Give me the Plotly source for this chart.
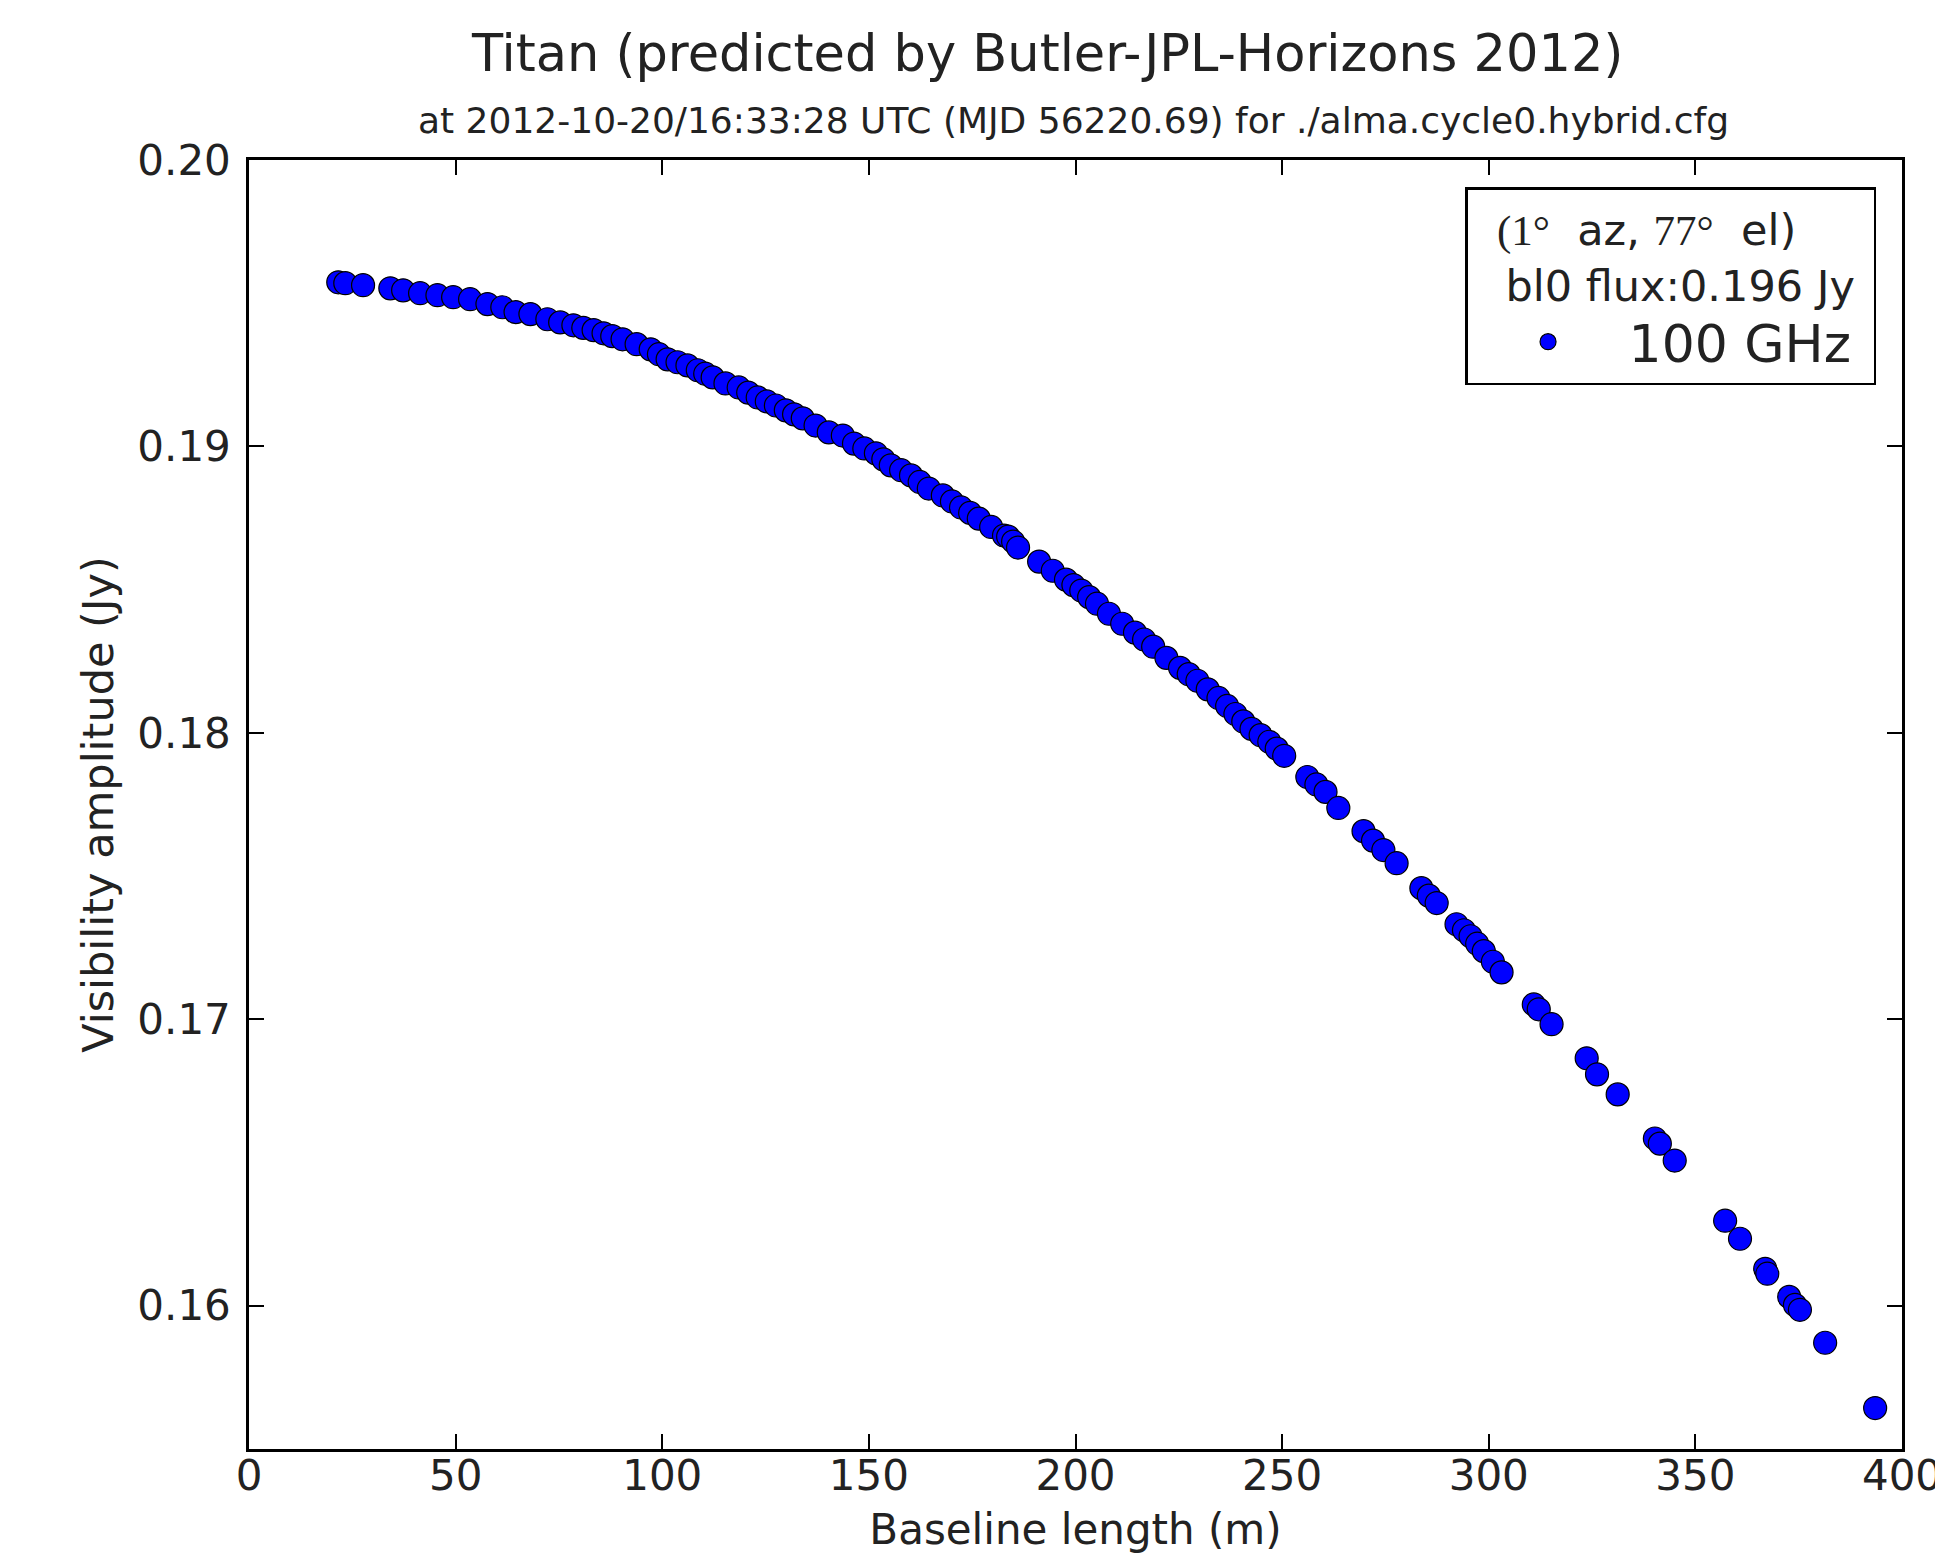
import plotly.graph_objects as go

# Baseline length (m)
baseline_m = [
    21.6, 23.3, 27.6, 34.2, 37.3, 41.4, 45.6, 49.4, 53.5, 57.7,
    61.3, 64.5, 68.1, 72.2, 75.3, 78.5, 80.9, 83.4, 85.8, 87.9,
    90.4, 93.8, 97.2, 99.2, 101.3, 103.7, 106.1, 108.6, 110.4, 112.2,
    115.3, 118.5, 120.8, 123.1, 125.3, 127.5, 129.9, 131.9, 134.0, 137.1,
    140.3, 143.7, 146.4, 148.9, 151.7, 153.5, 155.3, 157.8, 160.2, 162.3,
    164.5, 167.9, 170.1, 172.3, 174.5, 176.6, 179.6, 182.7, 183.7, 184.9,
    186.1, 191.2, 194.5, 197.7, 199.5, 201.4, 203.3, 205.2, 208.1, 211.3,
    214.4, 216.6, 218.8, 222.0, 225.3, 227.4, 229.5, 232.0, 234.6, 236.7,
    238.7, 240.6, 242.6, 244.8, 246.9, 248.7, 250.5, 256.1, 258.3, 260.5,
    263.6, 269.7, 272.0, 274.5, 277.7, 283.7, 285.5, 287.4, 292.2, 294.0,
    295.6, 297.2, 298.8, 301.0, 303.1, 310.9, 312.1, 315.2, 323.7, 326.2,
    331.2, 340.2, 341.4, 345.0, 357.2, 360.8, 366.9, 367.4, 372.7, 374.1,
    375.3, 381.4, 393.5,
]

# Visibility amplitude (Jy)
amplitude_jy = [
    0.19573, 0.19570, 0.19563, 0.19552, 0.19545, 0.19535, 0.19528, 0.19521, 0.19514, 0.19497,
    0.19486, 0.19469, 0.19462, 0.19444, 0.19433, 0.19423, 0.19414, 0.19406, 0.19395, 0.19385,
    0.19374, 0.19357, 0.19339, 0.19322, 0.19304, 0.19294, 0.19283, 0.19266, 0.19254, 0.19241,
    0.19220, 0.19206, 0.19188, 0.19171, 0.19157, 0.19143, 0.19126, 0.19112, 0.19098, 0.19073,
    0.19049, 0.19038, 0.19010, 0.18993, 0.18976, 0.18955, 0.18934, 0.18917, 0.18899, 0.18876,
    0.18853, 0.18829, 0.18808, 0.18787, 0.18768, 0.18748, 0.18719, 0.18689, 0.18685, 0.18668,
    0.18647, 0.18598, 0.18566, 0.18535, 0.18516, 0.18497, 0.18474, 0.18451, 0.18416, 0.18381,
    0.18350, 0.18326, 0.18301, 0.18262, 0.18227, 0.18205, 0.18182, 0.18152, 0.18122, 0.18094,
    0.18066, 0.18040, 0.18014, 0.17992, 0.17969, 0.17945, 0.17920, 0.17846, 0.17820, 0.17794,
    0.17738, 0.17657, 0.17624, 0.17591, 0.17545, 0.17458, 0.17432, 0.17406, 0.17332, 0.17311,
    0.17290, 0.17264, 0.17238, 0.17201, 0.17164, 0.17052, 0.17035, 0.16983, 0.16864, 0.16808,
    0.16738, 0.16584, 0.16566, 0.16507, 0.16297, 0.16234, 0.16129, 0.16112, 0.16031, 0.16003,
    0.15986, 0.15871, 0.15643,
]

x_ticks = [0, 50, 100, 150, 200, 250, 300, 350, 400]
y_ticks = [0.16, 0.17, 0.18, 0.19, 0.20]
y_tick_labels = ["0.16", "0.17", "0.18", "0.19", "0.20"]

series_name = "100 GHz "
legend_title = ('  <span style="font-family:\'Liberation Serif\'">(1°</span>  az, '
                '<span style="font-family:\'Liberation Serif\'">77°</span>  el)<br>  \u2009bl0 flux:0.196 Jy')
title_text = "Titan (predicted by Butler-JPL-Horizons 2012)"
subtitle_text = "at 2012-10-20/16:33:28 UTC (MJD 56220.69) for ./alma.cycle0.hybrid.cfg"

FONT = "DejaVu Sans, Bitstream Vera Sans, sans-serif"

fig = go.Figure()
fig.add_trace(go.Scatter(
    x=baseline_m, y=amplitude_jy, mode="markers", name=series_name,
    marker=dict(color="#0000ff", size=23, line=dict(color="black", width=1.2)),
))

axis_common = dict(
    showline=True, linecolor="black", linewidth=2.5, mirror="ticks",
    ticks="inside", ticklen=15, tickwidth=1.5, tickcolor="black",
    showgrid=False, zeroline=False, automargin=False,
    ticklabeloverflow="allow",
    tickfont=dict(family=FONT, size=42, color="#222"),
)

fig.update_layout(
    width=1927, height=1546,
    paper_bgcolor="white", plot_bgcolor="white",
    margin=dict(l=241, r=33, t=152, b=105),
    font=dict(family=FONT, color="#222"),
    xaxis=dict(range=[0, 400], tickvals=x_ticks, ticklabelstandoff=-12,
               title=dict(text="Baseline length (m)", font=dict(family=FONT, size=42, color="#222"), standoff=16),
               **axis_common),
    yaxis=dict(range=[0.155, 0.20], tickvals=y_ticks, ticktext=y_tick_labels, ticklabelstandoff=7,
               title=dict(text="Visibility amplitude (Jy)", font=dict(family=FONT, size=43, color="#222"), standoff=11),
               **axis_common),
    showlegend=True,
    legend=dict(
        x=0.9843, y=0.979, xanchor="right", yanchor="top",
        bordercolor="black", borderwidth=2.5, bgcolor="white",
        font=dict(family=FONT, size=52, color="#222"),
        title=dict(text=legend_title, font=dict(family=FONT, size=43, color="#222")),
        itemsizing="trace", itemwidth=151,
    ),
    annotations=[
        dict(text=title_text, xref="paper", yref="paper", x=0.4828, y=1.083,
             xanchor="center", yanchor="middle", showarrow=False,
             font=dict(family=FONT, size=51, color="#222")),
        dict(text=subtitle_text, xref="paper", yref="paper", x=0.4985, y=1.031,
             xanchor="center", yanchor="middle", showarrow=False,
             font=dict(family=FONT, size=36, color="#222")),
    ],
)

fig.write_html("out.html")
